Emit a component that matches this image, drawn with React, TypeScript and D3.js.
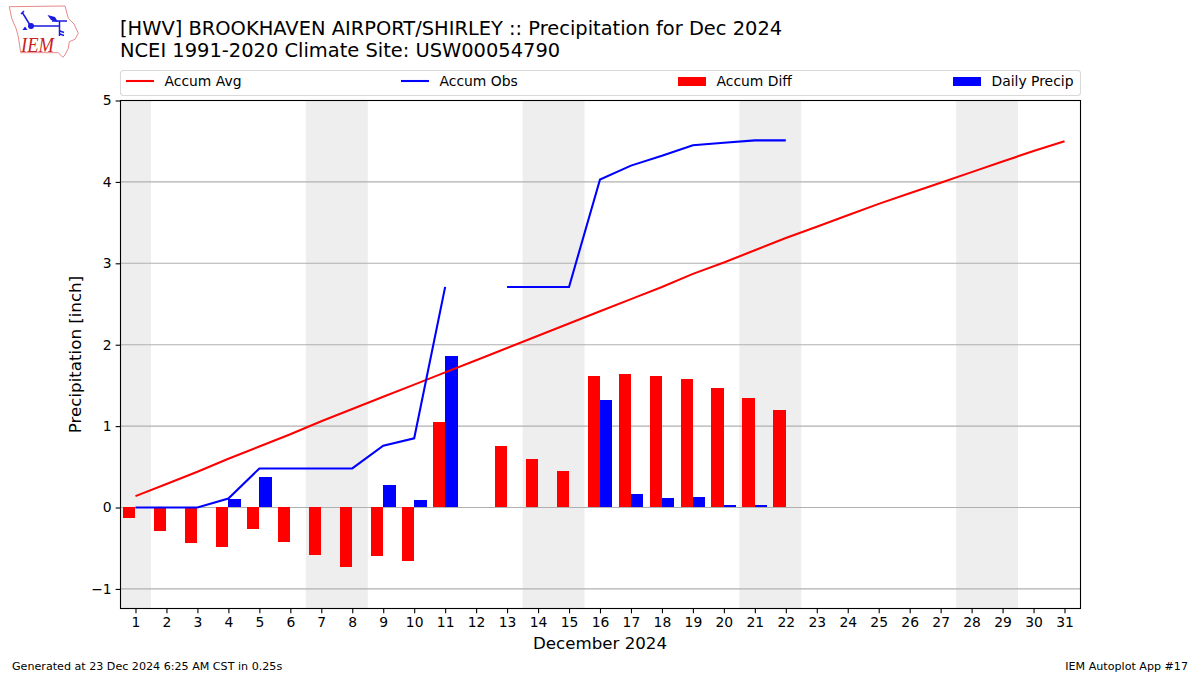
import { useEffect, useRef } from "react";
import * as d3 from "d3";

const days = d3.range(1, 32);
const weekendSpans = [[0.5, 1.5], [6.5, 8.5], [13.5, 15.5], [20.5, 22.5], [27.5, 29.5]];
const yTicks = [-1, 0, 1, 2, 3, 4, 5];

const accumAvg = [
    0.14, 0.29, 0.44, 0.6, 0.75, 0.9, 1.06, 1.21, 1.36, 1.51, 1.66, 1.81, 1.96, 2.11, 2.26, 2.41,
    2.56, 2.71, 2.87, 3.01, 3.16, 3.31, 3.45, 3.59, 3.73, 3.86, 3.99, 4.12, 4.25, 4.38, 4.5,
];
// day 12 has no observation in the source
const accumObs = [
    0, 0, 0, 0.11, 0.48, 0.48, 0.48, 0.48, 0.76, 0.85, 2.71, null, 2.71, 2.71, 2.71, 4.03, 4.2,
    4.32, 4.45, 4.48, 4.51, 4.51,
];
const accumDiff = [
    -0.14, -0.29, -0.44, -0.49, -0.27, -0.43, -0.59, -0.74, -0.6, -0.66, 1.05, null, 0.75, 0.59,
    0.44, 1.61, 1.63, 1.61, 1.57, 1.46, 1.34, 1.19,
];
const dailyPrecip = [
    0, 0, 0, 0.1, 0.37, 0, 0, 0, 0.27, 0.09, 1.86, null, 0, 0, 0, 1.32, 0.16, 0.11, 0.12, 0.025,
    0.025, 0,
];

const FONT = "'DejaVu Sans', sans-serif";

const App = () => {
    const chartRef = useRef<SVGSVGElement>(null);

    useEffect(() => {
        const svg = d3.select(chartRef.current);
        svg.selectAll("*").remove();

        const left = 120.5;
        const right = 1080.5;
        const top = 100.5;
        const bottom = 608.5;

        const x = d3.scaleLinear().domain([0.5, 31.5]).range([120, 1080]);
        const y = d3.scaleLinear().domain([-1.2405, 5]).range([bottom, top]);
        const barW = x(1.4) - x(1);
        // bars snap half a pixel above the grid line
        const barY = (v: number) => y(v) - 0.5;

        svg.append("g")
            .selectAll("rect")
            .data(weekendSpans)
            .join("rect")
            .attr("x", (d) => x(d[0]))
            .attr("width", (d) => x(d[1]) - x(d[0]))
            .attr("y", top)
            .attr("height", bottom - top)
            .attr("fill", "#eeeeee");

        // Grid
        svg.append("g")
            .selectAll("line")
            .data(yTicks)
            .join("line")
            .attr("x1", left)
            .attr("x2", right)
            .attr("y1", (d) => y(d))
            .attr("y2", (d) => y(d))
            .attr("stroke", "#b0b0b0")
            .attr("stroke-width", 1.1);

        // Bars
        svg.append("g")
            .selectAll("rect")
            .data(accumDiff.map((v, i) => ({ day: i + 1, v })).filter((d) => d.v !== null))
            .join("rect")
            .attr("x", (d) => x(d.day) - barW)
            .attr("width", barW)
            .attr("y", (d) => barY(Math.max(d.v, 0)))
            .attr("height", (d) => Math.abs(y(d.v) - y(0)))
            .attr("fill", "#ff0000")
            .attr("shape-rendering", "crispEdges");

        svg.append("g")
            .selectAll("rect")
            .data(dailyPrecip.map((v, i) => ({ day: i + 1, v })).filter((d) => d.v))
            .join("rect")
            .attr("x", (d) => x(d.day))
            .attr("width", barW)
            .attr("y", (d) => barY(d.v))
            .attr("height", (d) => y(0) - y(d.v))
            .attr("fill", "#0000ff")
            .attr("shape-rendering", "crispEdges");

        // Lines
        const line = d3
            .line<number | null>()
            .defined((d) => d !== null)
            .x((_, i) => x(i + 1))
            .y((d) => y(d as number));

        svg.append("path")
            .attr("d", line(accumAvg))
            .attr("fill", "none")
            .attr("stroke", "#ff0000")
            .attr("stroke-width", 2.08);
        svg.append("path")
            .attr("d", line(accumObs))
            .attr("fill", "none")
            .attr("stroke", "#0000ff")
            .attr("stroke-width", 2.08);

        // Axes
        const xAxis = svg
            .append("g")
            .attr("transform", `translate(0,${bottom})`)
            .call(d3.axisBottom(x).tickValues(days).tickFormat(d3.format("d")).tickSize(4.86).tickPadding(4));
        const yAxis = svg
            .append("g")
            .attr("transform", `translate(${left},0)`)
            .call(d3.axisLeft(y).tickValues(yTicks).tickFormat((d) => String(d).replace("-", "\u2212")).tickSize(4.86).tickPadding(4));
        [xAxis, yAxis].forEach((axis) => {
            axis.select(".domain").remove();
            axis.selectAll("line").attr("stroke", "#000").attr("stroke-width", 1.1);
            axis.selectAll("text").attr("font-family", FONT).attr("font-size", 13.9).attr("fill", "#000");
        });

        // Frame
        svg.append("rect")
            .attr("x", left)
            .attr("y", top)
            .attr("width", right - left)
            .attr("height", bottom - top)
            .attr("fill", "none")
            .attr("stroke", "#000")
            .attr("stroke-width", 1.1);

        const text = (s: string, tx: number, ty: number, size: number, anchor = "start") =>
            svg.append("text")
                .attr("x", tx)
                .attr("y", ty)
                .attr("font-family", FONT)
                .attr("font-size", size)
                .attr("text-anchor", anchor)
                .attr("fill", "#000")
                .text(s);

        text("[HWV] BROOKHAVEN AIRPORT/SHIRLEY :: Precipitation for Dec 2024", 120, 35, 19.44);
        text("NCEI 1991-2020 Climate Site: USW00054790", 120, 57, 19.44);
        text("December 2024", 600, 649, 16.67, "middle");
        text("Precipitation [inch]", 0, 0, 16.67, "middle").attr("transform", "translate(81,354.5) rotate(-90)");
        text("Generated at 23 Dec 2024 6:25 AM CST in 0.25s", 12, 670, 11.11);
        text("IEM Autoplot App #17", 1188, 670, 11.11, "end");

        // Legend
        svg.append("rect")
            .attr("x", 120.5)
            .attr("y", 70.5)
            .attr("width", 960)
            .attr("height", 25)
            .attr("rx", 3)
            .attr("fill", "#fff")
            .attr("stroke", "#d9d9d9")
            .attr("stroke-width", 1.1);
        const legendItems = [
            { label: "Accum Avg", color: "#ff0000", kind: "line", hx: 126 },
            { label: "Accum Obs", color: "#0000ff", kind: "line", hx: 401 },
            { label: "Accum Diff", color: "#ff0000", kind: "bar", hx: 678 },
            { label: "Daily Precip", color: "#0000ff", kind: "bar", hx: 953 },
        ];
        legendItems.forEach((d) => {
            if (d.kind === "line") {
                svg.append("line")
                    .attr("x1", d.hx)
                    .attr("x2", d.hx + 28)
                    .attr("y1", 81)
                    .attr("y2", 81)
                    .attr("stroke", d.color)
                    .attr("stroke-width", 2.08);
            } else {
                svg.append("rect")
                    .attr("x", d.hx)
                    .attr("y", 77)
                    .attr("width", 28)
                    .attr("height", 9)
                    .attr("fill", d.color);
            }
            text(d.label, d.hx + 38.5, 86, 13.9);
        });

        // IEM logo
        const logo = svg.append("g");
        logo.append("path")
            .attr("d", "M9.3,6.7 L65,6 L68.3,18.3 L74,24 L78.3,33.3 L75,39.3 L69.3,41.7 L68.3,48.3 L65,55 L62.7,57.3 L58.3,52.7 L20.7,52.7 L18.3,36.7 L16,28.3 L11.7,18.3 Z")
            .attr("fill", "none")
            .attr("stroke", "#e58a8a")
            .attr("stroke-width", 1);
        logo.append("path")
            .attr("d", "M31,26 H60 M52,21 H67 M59.5,21 V36 M22,12 L30,25 M24,11 L21,14 M60,31 L64,32.5 M60,34 L64,35.5")
            .attr("fill", "none")
            .attr("stroke", "#1a1ae0")
            .attr("stroke-width", 1.5);
        logo.append("path").attr("d", "M47.5,15 L55,17 L58,22 L51,20 Z").attr("fill", "#1a1ae0");
        logo.append("path").attr("d", "M25,26.5 L27.5,30 L22.5,30 Z").attr("fill", "#1a1ae0");
        logo.append("circle").attr("cx", 31).attr("cy", 26).attr("r", 3).attr("fill", "#1a1ae0");
        logo.append("text")
            .attr("x", 21)
            .attr("y", 52)
            .attr("font-family", "'Liberation Serif', serif")
            .attr("font-style", "italic")
            .attr("font-size", 22)
            .attr("textLength", 33)
            .attr("lengthAdjust", "spacingAndGlyphs")
            .attr("fill", "#cc2222")
            .text("IEM");
    }, []);

    return (
        <svg
            ref={chartRef}
            width={1200}
            height={675}
            style={{ position: "absolute", left: 0, top: 0, background: "#fff" }}
        />
    );
};

export default App;
